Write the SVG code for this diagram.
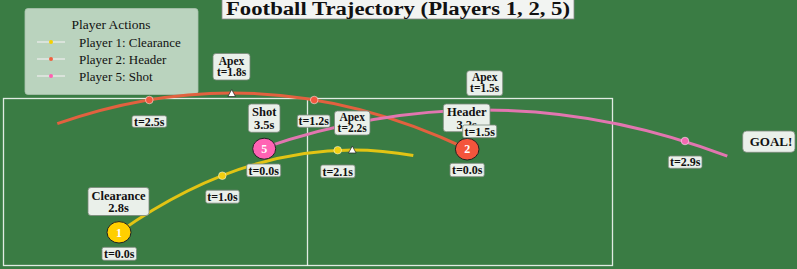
<svg xmlns="http://www.w3.org/2000/svg" width="797" height="269" viewBox="0 0 797 269">
<style>
.t{font-family:"Liberation Serif","Times New Roman",serif;font-weight:bold;fill:#111;text-anchor:middle}
.box{fill:#eaf0ea;stroke:#7a877a;stroke-width:0.8}
.traj{fill:none;stroke-width:3;stroke-linecap:butt}
.dot{stroke:#ffffff;stroke-opacity:0.5;stroke-width:1}
.apex{fill:#ffffff;stroke:#222;stroke-width:0.7}
.node{stroke:#222;stroke-width:1}
.nt{font-family:"Liberation Serif","Times New Roman",serif;font-weight:bold;fill:#fff;text-anchor:middle;font-size:12px}
.pitch{fill:none;stroke:#ffffff;stroke-opacity:0.85;stroke-width:1.3}
</style>
<rect x="0" y="0" width="797" height="269" fill="#3a7c44"/>
<g id="pitch">
<rect class="pitch" x="3.5" y="98.5" width="609" height="167"/>
<line class="pitch" x1="307.5" y1="98.5" x2="307.5" y2="265.5"/>
</g>
<g id="title">
<rect x="222" y="-1" width="352" height="20" fill="#f2f4f2" stroke="#888" stroke-width="0.8"/>
<text class="t" x="398" y="15" font-size="18.5" textLength="344" lengthAdjust="spacingAndGlyphs">Football Trajectory (Players 1, 2, 5)</text>
</g>
<g id="legend">
<rect x="25" y="8.5" width="173" height="86" rx="3" fill="#bad3be" stroke="#a9c2ad" stroke-width="0.8"/>
<text x="111" y="29" font-family="Liberation Serif, serif" font-size="13.5" text-anchor="middle" fill="#111">Player Actions</text>
<line x1="37" y1="42" x2="65" y2="42" stroke="#e4e8e4" stroke-width="1.5"/>
<circle cx="51" cy="42" r="2" fill="#f5d000"/>
<text x="79" y="46.5" font-family="Liberation Serif, serif" font-size="13" fill="#111">Player 1: Clearance</text>
<line x1="37" y1="59" x2="65" y2="59" stroke="#e4e8e4" stroke-width="1.5"/>
<circle cx="51" cy="59" r="2" fill="#f0603e"/>
<text x="79" y="63.5" font-family="Liberation Serif, serif" font-size="13" fill="#111">Player 2: Header</text>
<line x1="37" y1="76" x2="65" y2="76" stroke="#e4e8e4" stroke-width="1.5"/>
<circle cx="51" cy="76" r="2" fill="#ff5fb0"/>
<text x="79" y="80.5" font-family="Liberation Serif, serif" font-size="13" fill="#111">Player 5: Shot</text>
</g>
<g id="connectors">
<g id="traj-p1">
<path class="traj" d="M119,232.2 Q266.15,128.5 413.3,155.6" stroke="#e2c414"/>
<circle class="dot" cx="222.3" cy="175.7" r="3.8" fill="#f1cf10"/>
<circle class="dot" cx="337.7" cy="150.2" r="3.8" fill="#f1cf10"/>
<polygon class="apex" points="352.3,146 348.5,153 356.1,153"/>
</g>
<g id="traj-p2">
<path class="traj" d="M467,148.9 Q262.15,51.5 57.3,123.7" stroke="#e2613f"/>
<circle class="dot" cx="314.2" cy="100" r="3.8" fill="#f2583e"/>
<circle class="dot" cx="149.3" cy="100" r="3.8" fill="#f2583e"/>
<polygon class="apex" points="231.7,89.5 227.9,96.5 235.5,96.5"/>
</g>
<g id="traj-p5">
<path class="traj" d="M263,148.1 Q495.15,68.1 727.3,156.2" stroke="#e276b0"/>
<circle class="dot" cx="479.3" cy="110.6" r="3.8" fill="#f26bb3"/>
<circle class="dot" cx="685" cy="141" r="3.8" fill="#f26bb3"/>
<polygon class="apex" points="485,106 481.2,113 488.8,113"/>
</g>
</g>
<g id="p1">
<rect class="box" x="88" y="187.5" width="61" height="28" rx="3"/>
<text class="t" x="118.5" y="199.5" font-size="12.5">Clearance</text>
<text class="t" x="118.5" y="212" font-size="12.5">2.8s</text>
<rect class="box" x="334.5" y="111" width="35.5" height="24" rx="3"/>
<text class="t" x="352.2" y="121" font-size="11.5">Apex</text>
<text class="t" x="352.2" y="132" font-size="11.5">t=2.2s</text>
<rect class="box" x="102" y="247.3" width="34.5" height="13" rx="2"/>
<text class="t" x="119.2" y="258" font-size="12">t=0.0s</text>
<rect class="box" x="205.7" y="190.2" width="33.6" height="13" rx="2"/>
<text class="t" x="222.5" y="200.8" font-size="12">t=1.0s</text>
<rect class="box" x="320.7" y="165" width="34.3" height="12.8" rx="2"/>
<text class="t" x="337.8" y="175.5" font-size="12">t=2.1s</text>
<ellipse class="node" cx="119" cy="232.3" rx="12" ry="10.7" fill="#ffcf00"/>
<text class="nt" x="119" y="236.5">1</text>
</g>
<g id="p2">
<rect class="box" x="443.3" y="104" width="46.7" height="27.7" rx="3"/>
<text class="t" x="466.7" y="116" font-size="12.5">Header</text>
<text class="t" x="466.7" y="128.5" font-size="12.5">3.2s</text>
<rect class="box" x="213" y="53.5" width="37" height="26.5" rx="3"/>
<text class="t" x="231.5" y="64.5" font-size="11.5">Apex</text>
<text class="t" x="231.5" y="76" font-size="11.5">t=1.8s</text>
<rect class="box" x="450" y="163.3" width="34.3" height="13.4" rx="2"/>
<text class="t" x="467.2" y="174.2" font-size="12">t=0.0s</text>
<rect class="box" x="297.3" y="115" width="32.7" height="12.3" rx="2"/>
<text class="t" x="313.7" y="125.3" font-size="12">t=1.2s</text>
<rect class="box" x="132" y="115.7" width="34.7" height="11.6" rx="2"/>
<text class="t" x="149.3" y="125.6" font-size="12">t=2.5s</text>
<ellipse class="node" cx="467.2" cy="149.2" rx="11.8" ry="10.8" fill="#f4553c"/>
<text class="nt" x="467.2" y="153.4">2</text>
</g>
<g id="p5">
<rect class="box" x="248.3" y="104" width="31.7" height="28.3" rx="3"/>
<text class="t" x="264.2" y="116" font-size="12.5">Shot</text>
<text class="t" x="264.2" y="128.5" font-size="12.5">3.5s</text>
<rect class="box" x="466.7" y="70.7" width="36" height="25" rx="3"/>
<text class="t" x="484.7" y="81" font-size="11.5">Apex</text>
<text class="t" x="484.7" y="92.3" font-size="11.5">t=1.5s</text>
<rect class="box" x="246.7" y="164" width="34" height="12.7" rx="2"/>
<text class="t" x="263.7" y="174.6" font-size="12">t=0.0s</text>
<rect class="box" x="462.7" y="125" width="34" height="12.7" rx="2"/>
<text class="t" x="479.7" y="135.6" font-size="12">t=1.5s</text>
<rect class="box" x="668.3" y="156" width="33.7" height="12.3" rx="2"/>
<text class="t" x="685.2" y="166.3" font-size="12">t=2.9s</text>
<ellipse class="node" cx="264.2" cy="148.7" rx="11.5" ry="10.5" fill="#ff63b4"/>
<text class="nt" x="264.2" y="152.9">5</text>
</g>
<g id="goal">
<rect class="box" x="742.7" y="131" width="52.3" height="21.3" rx="4"/>
<text class="t" x="771" y="146" font-size="13">GOAL!</text>
</g>
</svg>
